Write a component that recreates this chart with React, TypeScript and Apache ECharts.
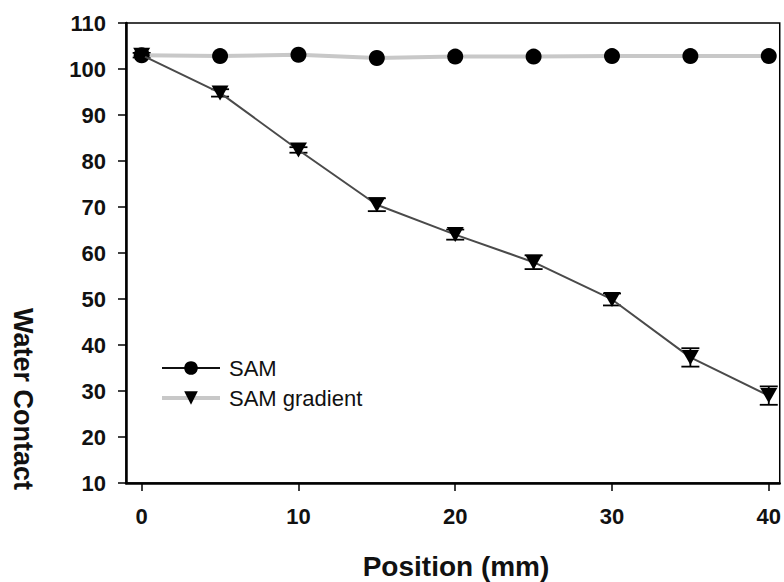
import React, { useEffect, useRef } from "react";
import * as echarts from "echarts";

const positions = [0, 5, 10, 15, 20, 25, 30, 35, 40];
const samValues = [103, 102.8, 103.1, 102.4, 102.7, 102.7, 102.8, 102.8, 102.8];
const gradientValues = [103, 94.8, 82.4, 70.5, 64, 58, 49.9, 37.3, 29];
const gradientErrors = [0.5, 0.8, 0.6, 1.4, 1.1, 1.5, 1.3, 2.0, 2.0];
const xTicks = [0, 10, 20, 30, 40];
const seriesNames = ["SAM", "SAM gradient"];
const xTitle = "Position (mm)";
const yTitle = "Water Contact";

const FONT = "'Liberation Sans', Arial, Helvetica, sans-serif";
const TRI_DOWN = "path://M0,0 L10,0 L5,9 Z";

export default function App() {
  const ref = useRef<HTMLDivElement>(null);
  useEffect(() => {
    if (!ref.current) return;
    const chart = echarts.init(ref.current, undefined, { renderer: "svg" });
    const samData = positions.map((x, i) => [x, samValues[i]]);
    const gradData = positions.map((x, i) => [x, gradientValues[i]]);
    const errData = positions.map((x, i) => [
      x,
      gradientValues[i] - gradientErrors[i],
      gradientValues[i] + gradientErrors[i],
    ]);
    chart.setOption({
      animation: false,
      backgroundColor: "#fff",
      grid: {
        left: 126,
        right: 4,
        top: 23,
        bottom: 99,
        show: true,
        borderColor: "#000",
        borderWidth: 1.5,
        backgroundColor: "transparent",
      },
      legend: {
        orient: "vertical",
        left: 155,
        top: 351,
        itemWidth: 58,
        itemHeight: 17,
        itemGap: 6,
        textStyle: {
          fontFamily: FONT,
          fontSize: 22,
          color: "#111",
          lineHeight: 24,
          padding: [0, 0, 0, 4],
        },
        data: [
          {
            name: seriesNames[0],
            lineStyle: { color: "#111", width: 2 },
            itemStyle: { color: "#000" },
          },
          {
            name: seriesNames[1],
            lineStyle: { color: "#c8c8c8", width: 4 },
            itemStyle: { color: "#000" },
          },
        ],
      },
      xAxis: {
        type: "value",
        min: -1,
        max: 40.7,
        axisLine: { show: true, onZero: false, lineStyle: { color: "#000", width: 2.5 } },
        axisTick: {
          show: true,
          length: 8,
          customValues: xTicks,
          lineStyle: { color: "#000", width: 1.5 },
        },
        axisLabel: {
          customValues: xTicks,
          margin: 22,
          fontFamily: FONT,
          fontSize: 22,
          fontWeight: "bold",
          color: "#111",
        },
        splitLine: { show: false },
      },
      yAxis: {
        type: "value",
        min: 10,
        max: 110,
        interval: 10,
        axisLine: { show: true, onZero: false, lineStyle: { color: "#000", width: 2.5 } },
        axisTick: { show: true, length: 8, lineStyle: { color: "#000", width: 1.5 } },
        axisLabel: {
          margin: 20,
          fontFamily: FONT,
          fontSize: 22,
          fontWeight: "bold",
          color: "#111",
        },
        splitLine: { show: false },
      },
      graphic: [
        {
          type: "text",
          x: 23,
          y: 399,
          rotation: -Math.PI / 2,
          style: {
            text: yTitle,
            font: `bold 27px ${FONT}`,
            fill: "#111",
            textAlign: "center",
            textVerticalAlign: "middle",
          },
        },
        {
          type: "text",
          x: 456,
          y: 566,
          style: {
            text: xTitle,
            font: `bold 28px ${FONT}`,
            fill: "#111",
            textAlign: "center",
            textVerticalAlign: "middle",
          },
        },
      ],
      series: [
        {
          name: "errors",
          type: "custom",
          z: 1,
          data: errData,
          renderItem: (params: any, api: any) => {
            const x = api.value(0);
            const lo = api.coord([x, api.value(1)]);
            const hi = api.coord([x, api.value(2)]);
            const hw = 9;
            const st = { stroke: "#000", lineWidth: 1.8 };
            return {
              type: "group",
              children: [
                { type: "line", shape: { x1: lo[0], y1: lo[1], x2: hi[0], y2: hi[1] }, style: st },
                { type: "line", shape: { x1: lo[0] - hw, y1: lo[1], x2: lo[0] + hw, y2: lo[1] }, style: st },
                { type: "line", shape: { x1: hi[0] - hw, y1: hi[1], x2: hi[0] + hw, y2: hi[1] }, style: st },
              ],
            };
          },
        },
        {
          name: seriesNames[0],
          type: "line",
          z: 2,
          data: samData,
          symbol: "circle",
          symbolSize: 16,
          itemStyle: { color: "#000" },
          lineStyle: { color: "#c8c8c8", width: 4 },
        },
        {
          name: seriesNames[1],
          type: "line",
          z: 3,
          data: gradData,
          symbol: TRI_DOWN,
          symbolSize: [17, 15],
          itemStyle: { color: "#000" },
          lineStyle: { color: "#4a4a4a", width: 2 },
        },
      ],
    });
    return () => chart.dispose();
  }, []);
  return <div ref={ref} style={{ width: 784, height: 582, position: "absolute", left: 0, top: 0 }} />;
}
